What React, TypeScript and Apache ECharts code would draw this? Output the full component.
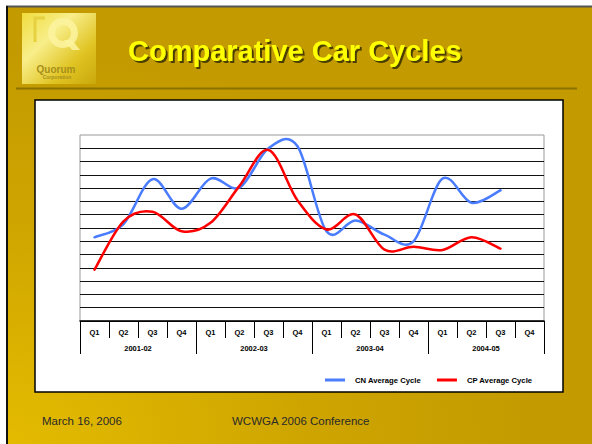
import React, { useEffect, useRef } from "react";
import * as echarts from "echarts";

const quarters = ["Q1", "Q2", "Q3", "Q4", "Q1", "Q2", "Q3", "Q4", "Q1", "Q2", "Q3", "Q4", "Q1", "Q2", "Q3", "Q4"];
const years = ["2001-02", "2002-03", "2003-04", "2004-05"];
const cnAverage = [6.3, 7.3, 10.67, 8.45, 10.72, 10.05, 13.0, 13.15, 6.75, 7.57, 6.5, 6.0, 10.72, 8.9, 9.84];
const cpAverage = [3.86, 7.5, 8.22, 6.76, 7.39, 10.17, 12.87, 9.08, 6.89, 8.02, 5.37, 5.58, 5.35, 6.31, 5.45];
const seriesNames = ["CN Average Cycle", "CP Average Cycle"];
const titleText = "Comparative Car Cycles";
const footerDate = "March 16, 2006";
const footerEvent = "WCWGA 2006 Conference";
const logoWord = "Quorum";
const logoSub = "Corporation";

const FONT = "'Liberation Sans', Arial, Helvetica, sans-serif";

// Smooth curve (Catmull-Rom, like a spreadsheet's smoothed line) through the library's own coordinates
function makeSmoothRender(values: number[], color: string) {
  return (params: any, api: any) => {
    if (params.dataIndex !== 0) return null;
    const pts = values.map((v, i) => api.coord([i, v]));
    let d = `M${pts[0][0]},${pts[0][1]}`;
    for (let i = 0; i < pts.length - 1; i++) {
      const p0 = pts[i - 1] || pts[i];
      const p1 = pts[i];
      const p2 = pts[i + 1];
      const p3 = pts[i + 2] || p2;
      const c1x = p1[0] + (p2[0] - p0[0]) / 6;
      const c1y = p1[1] + (p2[1] - p0[1]) / 6;
      const c2x = p2[0] - (p3[0] - p1[0]) / 6;
      const c2y = p2[1] - (p3[1] - p1[1]) / 6;
      d += ` C${c1x},${c1y} ${c2x},${c2y} ${p2[0]},${p2[1]}`;
    }
    return {
      type: "path",
      shape: { pathData: d },
      style: { fill: "none", stroke: color, lineWidth: 2.5, lineJoin: "round", lineCap: "round" },
    };
  };
}

export default function App() {
  const ref = useRef<HTMLDivElement>(null);
  useEffect(() => {
    if (!ref.current) return;
    const chart = echarts.init(ref.current, undefined, { renderer: "svg" });
    const option: any = {
      animation: false,
      backgroundColor: "#ffffff",
      graphic: {
        elements: [
          {
            type: "rect",
            z: -20,
            shape: { x: 6, y: 6, width: 586, height: 438 },
            style: {
              fill: {
                type: "radial",
                x: 0,
                y: 1,
                r: 0.9,
                colorStops: [
                  { offset: 0, color: "#e4bb00" },
                  { offset: 0.6, color: "#cda400" },
                  { offset: 1, color: "#c39b00" },
                ],
              },
            },
          },
          { type: "line", z: -19, shape: { x1: 6, y1: 6.5, x2: 592, y2: 6.5 }, style: { stroke: "#555", lineWidth: 2 } },
          { type: "line", z: -19, shape: { x1: 7, y1: 6, x2: 7, y2: 444 }, style: { stroke: "#111", lineWidth: 2 } },
          // logo
          {
            type: "rect",
            z: -18,
            shape: { x: 22, y: 13, width: 74, height: 71 },
            style: {
              fill: {
                type: "linear",
                x: 0,
                y: 0,
                x2: 1,
                y2: 1,
                colorStops: [
                  { offset: 0, color: "#f0dc3c" },
                  { offset: 0.35, color: "#f8ee8a" },
                  { offset: 0.7, color: "#e0c423" },
                  { offset: 1, color: "#c9a80c" },
                ],
              },
            },
          },
          {
            type: "polyline",
            z: -17,
            shape: { points: [[45, 18], [35, 18], [35, 42]] },
            style: { stroke: "#e6d240", lineWidth: 3, fill: "none" },
          },
          {
            type: "ring",
            z: -17,
            shape: { cx: 63, cy: 33, r: 15, r0: 8 },
            style: { fill: "#fbf3a0", opacity: 0.85 },
          },
          {
            type: "polygon",
            z: -17,
            shape: { points: [[64, 40], [72, 40], [80, 50], [72, 50]] },
            style: { fill: "#fbf3a0", opacity: 0.85 },
          },
          {
            type: "text",
            z: -16,
            style: { text: logoWord, x: 56, y: 69, align: "center", verticalAlign: "middle", font: `bold 10px ${FONT}`, fill: "#a88f1c" },
          },
          {
            type: "text",
            z: -16,
            style: { text: logoSub, x: 57, y: 77, align: "center", verticalAlign: "middle", font: `bold 5px ${FONT}`, fill: "#a88f1c" },
          },
          // header rule
          { type: "line", z: -19, shape: { x1: 16, y1: 88.5, x2: 577, y2: 88.5 }, style: { stroke: "#8a7100", lineWidth: 2 } },
          // title with drop shadow
          {
            type: "text",
            z: 6,
            style: {
              text: titleText,
              x: 128,
              y: 51,
              align: "left",
              verticalAlign: "middle",
              font: `bold 29px ${FONT}`,
              fill: "#ffff00",
              textShadowColor: "#4a3c00",
              textShadowOffsetX: 2,
              textShadowOffsetY: 2,
              textShadowBlur: 0.5,
            },
          },
          // chart panel
          {
            type: "rect",
            z: -15,
            shape: { x: 35, y: 100, width: 528, height: 292 },
            style: { fill: "#ffffff", stroke: "#000000", lineWidth: 1.5 },
          },
          // footer
          {
            type: "text",
            z: 5,
            style: { text: footerDate, x: 42, y: 421, align: "left", verticalAlign: "middle", font: `11.5px ${FONT}`, fill: "#2a2a2a" },
          },
          {
            type: "text",
            z: 5,
            style: { text: footerEvent, x: 232, y: 421, align: "left", verticalAlign: "middle", font: `11.5px ${FONT}`, fill: "#2a2a2a" },
          },
        ],
      },
      grid: {
        left: 80,
        right: 48,
        top: 135,
        bottom: 123,
        show: true,
        borderColor: "#999999",
        borderWidth: 1,
        backgroundColor: "transparent",
      },
      legend: {
        data: seriesNames,
        left: 320,
        top: 371,
        icon: "rect",
        itemWidth: 20,
        itemHeight: 3,
        itemGap: 16,
        textStyle: { fontFamily: FONT, fontSize: 7.7, fontWeight: "bold", color: "#000", padding: [0, 0, 0, 5] },
      },
      xAxis: [
        {
          type: "category",
          data: quarters,
          position: "bottom",
          boundaryGap: true,
          axisLine: { show: true, lineStyle: { color: "#000", width: 1.5 } },
          axisTick: { show: true, interval: 0, length: 17, lineStyle: { color: "#000", width: 1 } },
          axisLabel: { interval: 0, margin: 7, fontFamily: FONT, fontSize: 7.5, fontWeight: "bold", color: "#000" },
          splitLine: { show: false },
        },
        {
          type: "category",
          data: years,
          position: "bottom",
          offset: 0,
          boundaryGap: true,
          axisLine: { show: false },
          axisTick: { show: true, interval: 0, length: 33, lineStyle: { color: "#000", width: 1 } },
          axisLabel: { interval: 0, margin: 23, fontFamily: FONT, fontSize: 7.5, fontWeight: "bold", color: "#000" },
          splitLine: { show: false },
        },
      ],
      yAxis: {
        type: "value",
        min: 0,
        max: 14,
        interval: 1,
        axisLine: { show: false },
        axisTick: { show: false },
        axisLabel: { show: false },
        splitLine: { show: true, showMaxLine: false, lineStyle: { color: "#111", width: 1 } },
      },
      series: [
        {
          name: seriesNames[0],
          type: "custom",
          data: cnAverage.map((v, i) => [i, v]),
          encode: { x: 0, y: 1 },
          renderItem: makeSmoothRender(cnAverage, "#4a7cff"),
          itemStyle: { color: "#4a7cff" },
          z: 3,
        },
        {
          name: seriesNames[1],
          type: "custom",
          data: cpAverage.map((v, i) => [i, v]),
          encode: { x: 0, y: 1 },
          renderItem: makeSmoothRender(cpAverage, "#ff0000"),
          itemStyle: { color: "#ff0000" },
          z: 4,
        },
      ],
    };
    chart.setOption(option);
    return () => chart.dispose();
  }, []);
  return <div ref={ref} style={{ position: "absolute", left: 0, top: 0, width: 592, height: 444 }} />;
}
